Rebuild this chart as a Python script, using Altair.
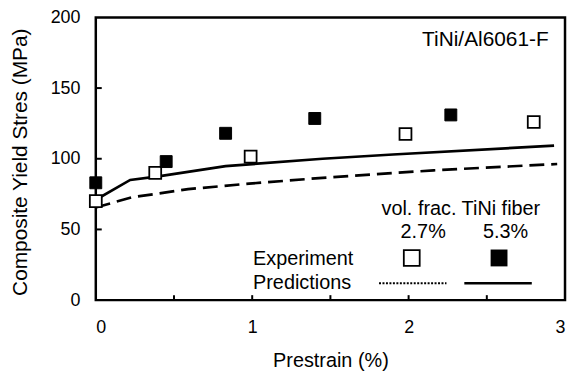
import altair as alt
import pandas as pd

# ---- data ----
exp_x_27 = [0, 0.38, 0.99, 1.98, 2.80]
exp_y_27 = [70, 90, 101.5, 117.5, 126]
exp_x_53 = [0, 0.45, 0.83, 1.40, 2.27]
exp_y_53 = [83, 98, 118, 128.5, 131]

pred_x_27 = [0, 0.23, 0.59, 0.98, 1.45, 2.16, 2.95]
pred_y_27 = [65.5, 72.7, 78.5, 82.4, 86.5, 91.8, 96.3]
pred_x_53 = [0, 0.22, 0.40, 0.83, 1.45, 1.90, 2.93]
pred_y_53 = [71, 85, 87.5, 94.8, 100, 103, 109.3]

x_tick_marks = [0.5, 1, 1.5, 2, 2.5]
y_tick_marks = [50, 100, 150]
x_labels = [0, 1, 2, 3]
y_labels = [0, 50, 100, 150, 200]

W, H = 473, 285
TOP = 16  # absolute y of plot top (page coords)
FONT = "Liberation Sans"

xs = alt.Scale(domain=[0, 3], nice=False, zero=False)
ys = alt.Scale(domain=[0, 200], nice=False)

x_axis = alt.Axis(values=x_labels, title="Prestrain (%)", grid=False, domain=False,
                  ticks=False, tickSize=0, labelPadding=19, labelFontSize=18,
                  labelFont=FONT, titleFont=FONT, titleFontSize=20,
                  titleFontWeight="normal", titleX=W / 2, titleY=67,
                  titleBaseline="alphabetic", titleAlign="center",
                  labelColor="black", titleColor="black")
y_axis = alt.Axis(values=y_labels, title="Composite Yield Stres (MPa)", grid=False,
                  domain=False, ticks=False, tickSize=0, labelPadding=16,
                  labelFontSize=18, labelFont=FONT, titleFont=FONT, titleFontSize=21,
                  titleFontWeight="normal", titleX=-70, titleY=H / 2 + 3,
                  titleAngle=270, titleBaseline="alphabetic", titleAlign="center",
                  labelColor="black", titleColor="black")

X = lambda f: alt.X(f, type="quantitative", scale=xs, axis=x_axis)
Y = lambda f: alt.Y(f, type="quantitative", scale=ys, axis=y_axis)

df27 = pd.DataFrame({"x": pred_x_27, "y": pred_y_27})
df53 = pd.DataFrame({"x": pred_x_53, "y": pred_y_53})
e27 = pd.DataFrame({"x": exp_x_27, "y": exp_y_27})
e53 = pd.DataFrame({"x": exp_x_53, "y": exp_y_53})

line27 = alt.Chart(df27).mark_line(color="black", strokeWidth=2.7, strokeDash=[15, 7]).encode(
    x=X("x"), y=Y("y"))
line53 = alt.Chart(df53).mark_line(color="black", strokeWidth=2.7).encode(
    x=X("x"), y=Y("y"))

pts27 = alt.Chart(e27).mark_square(size=144, fill="white", stroke="black",
                                   strokeWidth=1.8, opacity=1).encode(x=X("x"), y=Y("y"))
pts53 = alt.Chart(e53).mark_square(size=144, fill="black", stroke="black",
                                   strokeWidth=1, opacity=1).encode(x=X("x"), y=Y("y"))

xt = alt.Chart(pd.DataFrame({"t": x_tick_marks})).mark_rule(color="black", strokeWidth=2).encode(
    x=X("t"), y=alt.value(H), y2=alt.value(H - 5))
yt = alt.Chart(pd.DataFrame({"t": y_tick_marks})).mark_rule(color="black", strokeWidth=2).encode(
    y=Y("t"), x=alt.value(0), x2=alt.value(6))

one = pd.DataFrame({"k": [0]})


def label(txt, x, y, size=20, align="left"):
    # x, y given in page pixels, converted to plot-relative values
    return alt.Chart(one).mark_text(text=txt, font=FONT, fontSize=size, align=align,
                                    baseline="middle", color="black").encode(
        x=alt.value(x - 96.5), y=alt.value(y - TOP))


texts = [
    label("TiNi/Al6061-F", 553, 39, size=21, align="right"),
    label("vol. frac. TiNi fiber", 464.5, 209, align="center"),
    label("2.7%", 426.5, 232, align="center"),
    label("5.3%", 509.5, 232, align="center"),
    label("Experiment", 255, 260),
    label("Predictions", 255, 284),
]

leg_open = alt.Chart(one).mark_square(size=256, fill="white", stroke="black",
                                      strokeWidth=1.8, opacity=1).encode(
    x=alt.value(415 - 96.5), y=alt.value(258.5 - TOP))
leg_fill = alt.Chart(one).mark_square(size=289, fill="black", opacity=1).encode(
    x=alt.value(503 - 96.5), y=alt.value(258.5 - TOP))
leg_dot = alt.Chart(one).mark_rule(color="black", strokeWidth=2, strokeDash=[2, 1.5]).encode(
    x=alt.value(382 - 96.5), x2=alt.value(450 - 96.5), y=alt.value(284 - TOP))
leg_solid = alt.Chart(one).mark_rule(color="black", strokeWidth=2.7).encode(
    x=alt.value(468 - 96.5), x2=alt.value(536 - 96.5), y=alt.value(284 - TOP))

chart = alt.layer(
    line27, line53, xt, yt, pts27, pts53, *texts, leg_open, leg_fill, leg_dot, leg_solid
).properties(
    width=W, height=H,
    autosize=alt.AutoSizeParams(type="none"),
    padding={"left": 88.5, "top": TOP - 8, "right": 2, "bottom": 72},
    background="white",
).configure_view(stroke="black", strokeWidth=2.5)

chart.save("out.html", embed_options={"renderer": "svg", "actions": False})
